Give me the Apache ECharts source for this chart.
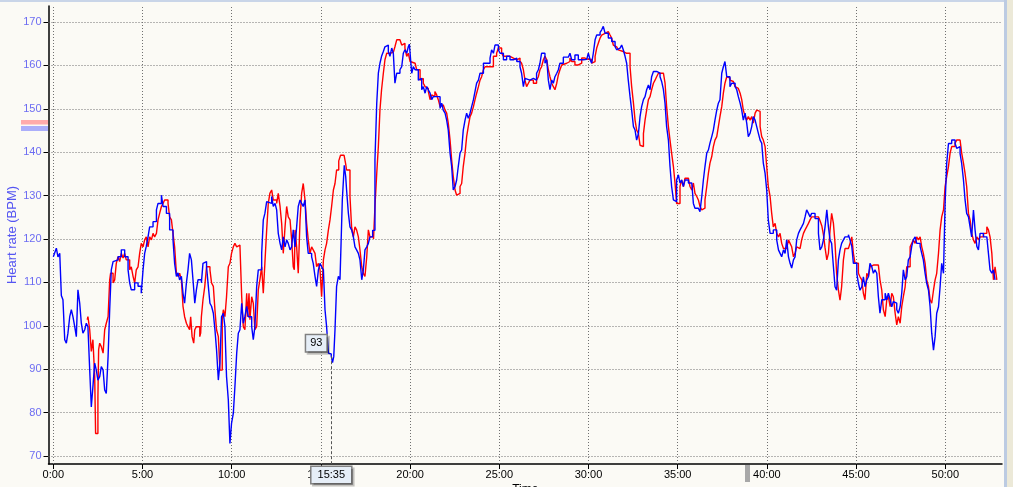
<!DOCTYPE html>
<html>
<head>
<meta charset="utf-8">
<title>Heart rate</title>
<script src="https://cdn.jsdelivr.net/npm/echarts@6/dist/echarts.min.js"></script>
<style>
  html, body { margin: 0; padding: 0; background: #fbfaf5; overflow: hidden; }
  #chart { width: 1013px; height: 487px; }
</style>
</head>
<body>
<div id="chart"></div>
<script>
  // [minutes, bpm]
  const blue = [
    [0,115.9],[0.07,116.7],[0.17,117.9],[0.26,115.9],[0.36,116.7],[0.45,107],[0.54,106],[0.64,96.8],[0.73,96],[0.82,98.3],
    [0.92,102.1],[1.01,103.7],[1.1,102.1],[1.2,99.8],[1.29,97.5],[1.38,108.3],[1.48,105.2],[1.57,100.6],[1.66,98.3],[1.76,99.1],
    [1.85,100.6],[1.94,99.8],[2.04,89.8],[2.13,81.3],[2.22,86],[2.32,91.4],[2.41,89.8],[2.5,87.5],[2.6,88.3],[2.69,90.6],
    [2.79,89.8],[2.88,85.2],[2.97,84.4],[3.07,92.9],[3.16,103.7],[3.25,112.9],[3.35,114.8],[3.44,115.2],[3.63,115.9],[3.81,117.5],
    [4,115.9],[4.19,112.9],[4.28,109.9],[4.37,108.3],[4.56,109.9],[4.75,109.1],[4.93,107.5],[5.03,112.9],[5.12,116.7],[5.21,118.3],
    [5.31,120.5],[5.4,122.8],[5.59,124],[5.78,126.7],[5.87,128.2],[6.06,130.1],[6.15,127.5],[6.34,125.9],[6.52,122.1],[6.71,119.8],
    [6.8,114.4],[6.9,111.4],[6.99,112.2],[7.08,110.6],[7.18,111.4],[7.27,107.5],[7.36,105.2],[7.46,109.9],[7.55,112.9],[7.64,116.7],
    [7.74,115.2],[7.83,110.6],[7.93,105.2],[8.02,108.3],[8.11,110.6],[8.3,109.9],[8.39,114.4],[8.5,114.8],[8.59,113.6],[8.69,109.1],
    [8.78,105.2],[8.87,104.5],[8.97,102.9],[9.06,99.1],[9.15,94.5],[9.25,87.5],[9.34,91.4],[9.43,102.1],[9.53,102.9],[9.62,99.8],
    [9.71,88.3],[9.81,82.9],[9.9,72.9],[9.99,77.5],[10.09,79.8],[10.18,86],[10.28,93.7],[10.37,98.3],[10.46,99.1],[10.56,105.2],
    [10.65,100.6],[10.74,102.1],[10.84,104.5],[10.93,102.1],[11.12,99.8],[11.21,96.8],[11.3,99.8],[11.4,109.1],[11.49,112.9],[11.68,116.7],
    [11.77,124.4],[11.86,125.9],[11.96,128.6],[12.05,128.2],[12.24,129.8],[12.33,127.5],[12.43,128.2],[12.52,126.7],[12.61,121.3],[12.71,119],
    [12.8,117.5],[12.89,120.5],[12.99,118.2],[13.08,119.8],[13.17,119],[13.27,117.5],[13.36,118.2],[13.45,122.1],[13.55,118.2],[13.64,122.8],
    [13.73,127.5],[13.83,129],[13.92,128.2],[14.01,127.5],[14.11,129],[14.2,120.5],[14.29,116.7],[14.39,116.7],[14.48,115.9],[14.57,114.4],
    [14.67,111.4],[14.76,109.1],[14.86,112.9],[14.95,114.4],[15.04,113.6],[15.14,112.9],[15.23,103.7],[15.32,99.8],[15.42,93.7],[15.51,93.5],
    [15.58,93],[15.65,91.5],[15.72,92.9],[15.79,99.1],[15.88,109.1],[15.98,111.4],[16.07,110.6],[16.13,119],[16.2,129],[16.31,137],
    [16.39,134.4],[16.44,131.3],[16.54,125.9],[16.63,122.8],[16.72,122.1],[16.82,120.5],[16.91,118.2],[17,117.5],[17.1,116.7],[17.19,115.2],
    [17.29,110.6],[17.38,112.9],[17.47,117.5],[17.57,118.2],[17.66,119],[17.75,120.5],[17.9,122],[18.03,138.2],[18.13,151.3],[18.22,158.2],
    [18.31,160.5],[18.4,162.1],[18.5,163.2],[18.59,164.3],[18.69,164.7],[18.78,163.2],[18.87,162.1],[18.97,164],[19.06,162.8],[19.15,155.9],
    [19.25,158.2],[19.34,158.2],[19.43,159],[19.53,159.7],[19.62,162.8],[19.71,163.6],[19.81,162.8],[19.9,164.3],[19.96,164.9],[20,162.8],
    [20.09,158.2],[20.18,159.7],[20.28,159],[20.37,159],[20.46,156.6],[20.56,157],[20.65,154.4],[20.74,155.1],[20.84,153.6],[20.93,155.1],
    [21.02,154.4],[21.12,153.6],[21.21,152.1],[21.3,152.8],[21.49,152.8],[21.68,150.1],[21.77,151.3],[21.86,149.7],[21.96,149],[22.05,147.4],
    [22.14,145.1],[22.24,139.8],[22.33,136.7],[22.42,131.3],[22.52,132.1],[22.61,133.6],[22.7,136.7],[22.8,139.8],[22.89,140.5],[22.98,145.1],
    [23.08,147.4],[23.17,149],[23.26,147.8],[23.36,149],[23.45,150.5],[23.55,152.1],[23.64,154],[23.73,155.9],[23.83,156.6],[23.92,158.2],
    [24.11,160.5],[24.29,160.2],[24.39,160.5],[24.48,161.7],[24.57,163.6],[24.67,162.8],[24.76,164.7],[24.85,164.7],[24.95,163.6],[25.04,162.8],
    [25.23,161.3],[25.41,162.1],[25.6,161.3],[25.79,161.7],[25.98,160.9],[26.16,159.7],[26.25,158.2],[26.35,155.1],[26.44,157],[26.53,156.6],
    [26.72,157],[26.91,156.6],[27.09,158.2],[27.19,159],[27.28,160.5],[27.37,162.8],[27.47,162.8],[27.56,160.5],[27.66,161.3],[27.75,156.6],
    [27.84,154.4],[27.94,156.6],[28.03,155.9],[28.12,157.4],[28.22,158.2],[28.31,159],[28.4,160.5],[28.59,161.9],[28.87,161.7],[28.96,162.8],
    [29.06,161.3],[29.24,162.4],[29.43,161.3],[29.71,161.4],[29.9,161.7],[29.99,162.8],[30.09,161.3],[30.18,160.5],[30.27,162.8],[30.37,165.9],
    [30.46,167],[30.65,167.6],[30.74,168.2],[30.83,169],[30.93,167.4],[31.11,166.3],[31.3,165.5],[31.49,164.3],[31.58,163.6],[31.67,164],
    [31.77,163.6],[31.86,164.7],[31.95,163.6],[32.05,162.1],[32.14,160.5],[32.23,156.6],[32.33,152.8],[32.42,149.7],[32.52,145.9],[32.61,145.1],
    [32.7,142.8],[32.8,144.3],[32.89,148.2],[32.98,150.5],[33.08,152.1],[33.17,152.8],[33.26,154.4],[33.36,155.5],[33.45,154.4],[33.54,157.4],
    [33.64,158.6],[33.82,159],[33.92,158.2],[34.01,157.4],[34.1,156.3],[34.2,154.4],[34.29,151.3],[34.38,145.9],[34.48,142.8],[34.57,136.7],
    [34.66,132.1],[34.76,129],[34.85,128.6],[34.94,133.6],[35.04,134.8],[35.13,132.9],[35.22,133.6],[35.32,132.1],[35.41,133.6],[35.6,132.9],
    [35.79,132.9],[35.88,128.2],[35.97,127.1],[36.16,127.5],[36.25,126.3],[36.35,129.8],[36.44,133.6],[36.53,136.7],[36.63,139.8],[36.72,140.5],
    [36.81,142.1],[36.91,143.6],[37,145.1],[37.09,147.4],[37.19,149.7],[37.28,151.3],[37.37,152.1],[37.47,158.2],[37.56,159.7],[37.65,160.9],
    [37.75,157.4],[37.93,155.1],[38.03,155.9],[38.22,155.1],[38.31,154.4],[38.4,152.8],[38.5,151.3],[38.59,149.7],[38.68,147.4],[38.78,149],
    [38.87,146.7],[38.96,143.6],[39.06,144.4],[39.15,145.9],[39.24,148.2],[39.34,147.4],[39.43,145.9],[39.52,144.4],[39.62,142.8],[39.71,142.1],
    [39.8,137.5],[39.9,135.1],[39.99,131.3],[40.08,124.4],[40.18,121.3],[40.36,122.1],[40.46,122.1],[40.55,119.8],[40.65,117.5],[40.74,116.7],
    [40.83,115.9],[40.93,117.5],[41.02,116.7],[41.11,119.8],[41.21,115.9],[41.3,114.4],[41.39,113.3],[41.49,115.2],[41.58,115.9],[41.67,119.8],
    [41.77,121.3],[41.86,122.1],[41.95,122.8],[42.05,123.6],[42.14,125.1],[42.23,126.7],[42.33,125.9],[42.42,125.1],[42.51,125.9],[42.7,124.7],
    [42.89,121.3],[42.98,117.5],[43.08,118.2],[43.17,119.8],[43.26,122.8],[43.36,126.7],[43.45,122.8],[43.54,119.8],[43.63,119],[43.73,113.6],
    [43.82,109],[43.91,108.2],[44.01,115.2],[44.1,117.5],[44.19,119],[44.29,119.8],[44.38,120.5],[44.57,121],[44.66,119.8],[44.76,118.3],
    [44.85,114.4],[44.94,114.4],[45.04,112.1],[45.13,109.8],[45.22,108.2],[45.32,109],[45.41,111.3],[45.5,109],[45.6,110.6],[45.69,111.3],
    [45.78,114.4],[45.88,113.6],[45.97,112.1],[46.06,112.9],[46.16,112.1],[46.25,106.7],[46.34,102.9],[46.44,106],[46.53,106],[46.63,107.5],
    [46.72,106],[46.81,107.5],[46.91,106],[47,104.4],[47.09,105.6],[47.19,105.2],[47.28,103.7],[47.37,102.9],[47.47,104.4],[47.56,107.5],
    [47.65,112.9],[47.75,110.6],[47.84,111.3],[47.93,115.2],[48.03,115.9],[48.12,118.3],[48.21,119.8],[48.31,120.5],[48.4,119],[48.59,118.3],
    [48.68,116.7],[48.77,115.2],[48.87,112.1],[48.96,109.8],[49.06,108.2],[49.15,104.4],[49.24,98.3],[49.34,94.4],[49.43,97.5],[49.52,102.9],
    [49.62,104.4],[49.71,109],[49.8,114.4],[49.9,112.1],[49.99,128.2],[50.08,137.4],[50.18,142],[50.36,142.8],[50.46,142.8],[50.55,142],
    [50.64,140.9],[50.74,141.3],[50.83,139.7],[50.92,137.4],[51.02,133.6],[51.11,129],[51.2,125.9],[51.3,125.1],[51.39,122.8],[51.48,120.5],
    [51.58,126.7],[51.67,122.1],[51.77,118.3],[51.86,117.5],[51.95,121.3],[52.14,120.5],[52.33,120.5],[52.42,116.7],[52.51,112.9],[52.61,112.1],
    [52.7,112.9],[52.79,110.6]
  ]

  const red = [
    [1.9,101.4],[1.94,102.1],[2.04,99.1],[2.13,94.1],[2.22,96.8],[2.32,88.3],[2.37,75.2],[2.43,75.2],[2.5,83.6],[2.54,94.5],
    [2.6,96],[2.69,95.2],[2.79,93.7],[2.88,99.1],[2.97,100.6],[3.07,102.1],[3.16,110.6],[3.21,112.1],[3.35,109.9],[3.44,110.6],
    [3.53,114.4],[3.63,115.9],[3.72,114.8],[3.81,116.7],[3.91,115.6],[4,116.7],[4.09,115.2],[4.19,115.2],[4.28,112.9],[4.37,113.6],
    [4.47,111.4],[4.56,109.9],[4.65,112.9],[4.75,113.6],[4.84,116.7],[4.93,119],[5.03,118.2],[5.12,119.8],[5.21,120.5],[5.31,118.2],
    [5.4,120.5],[5.5,119.8],[5.59,121.3],[5.68,120.5],[5.78,121.3],[5.87,124.4],[5.96,125.9],[6.06,127.5],[6.15,128.2],[6.24,129],
    [6.34,129],[6.43,128.2],[6.52,125.1],[6.62,124.4],[6.71,121.3],[6.8,118.2],[6.9,112.1],[6.99,111.4],[7.08,112.1],[7.18,110.6],
    [7.27,104.5],[7.36,102.1],[7.46,100.6],[7.55,99.8],[7.64,99.1],[7.7,102.1],[7.78,97.5],[7.87,96],[7.93,99.1],[8.02,99.8],
    [8.11,99.8],[8.21,97.5],[8.26,98.3],[8.3,102.1],[8.39,106],[8.49,109.1],[8.59,113.6],[8.69,113.6],[8.78,112.9],[8.87,109.9],
    [8.97,109.1],[9.06,103.7],[9.15,99.1],[9.25,97.5],[9.34,89.8],[9.43,89.8],[9.47,101.4],[9.53,103.7],[9.62,102.1],[9.71,106.7],
    [9.81,113.6],[9.9,114.4],[9.99,116.7],[10.09,118.2],[10.18,119],[10.28,118.2],[10.37,118.6],[10.46,119],[10.56,106.7],[10.65,99.8],
    [10.74,99.1],[10.84,107.5],[10.89,102.1],[10.97,107.5],[11.02,101.4],[11.12,106.7],[11.21,105.2],[11.3,99.1],[11.4,99.8],[11.49,108.3],
    [11.58,110.6],[11.68,113.6],[11.77,107.5],[11.86,114.4],[11.96,122.1],[12.05,128.2],[12.14,130.5],[12.24,131.3],[12.33,129],[12.43,129],
    [12.52,128.2],[12.61,130.5],[12.71,127.5],[12.8,123.6],[12.89,116.7],[12.99,122.8],[13.08,127.5],[13.17,125.1],[13.27,124.4],[13.36,119.8],
    [13.45,113.6],[13.51,112.9],[13.55,122.1],[13.64,118.2],[13.73,112.1],[13.83,124.4],[13.92,130.5],[14.01,132.8],[14.11,129],[14.2,123.6],
    [14.29,119.8],[14.39,116.7],[14.48,118.2],[14.57,117.5],[14.67,116.7],[14.76,113.6],[14.86,114.4],[14.95,112.9],[15.04,106.7],[15.14,115.2],
    [15.23,117.5],[15.32,119],[15.42,122.1],[15.51,124.4],[15.6,127.5],[15.7,131.3],[15.79,132.8],[15.88,135.9],[16,138],[16.1,139.3],
    [16.3,139.3],[16.4,137],[16.44,135.9],[16.63,129.8],[16.72,122.8],[16.82,120.5],[16.91,122.8],[17,122.1],[17.1,120.5],[17.19,117.5],
    [17.29,113.6],[17.38,112.1],[17.47,111.4],[17.57,115.9],[17.66,122.1],[17.75,120.5],[17.95,120],[18.03,127.5],[18.13,135.1],[18.22,141.3],
    [18.31,149.7],[18.4,154.4],[18.5,158.2],[18.59,161.3],[18.69,162.8],[18.87,163],[19.06,163.2],[19.15,164.3],[19.25,165.9],[19.43,165.9],
    [19.53,164.7],[19.62,165.1],[19.71,164],[19.81,162.1],[19.9,162.8],[20,160.9],[20.09,160.5],[20.28,160.1],[20.37,159],[20.46,159],
    [20.56,156.6],[20.65,157],[20.74,155.9],[20.84,155.1],[20.93,154.7],[21.02,154],[21.12,152.1],[21.21,153.2],[21.3,152.8],[21.39,154],
    [21.49,153.2],[21.58,152.1],[21.68,150.5],[21.77,150.9],[21.86,150.9],[21.96,149.7],[22.05,149],[22.14,146.7],[22.24,142.8],[22.33,138.2],
    [22.42,134.4],[22.52,131.3],[22.61,130.1],[22.7,130.5],[22.8,132.1],[22.89,132.8],[22.98,136.7],[23.08,139.8],[23.17,143.6],[23.26,145.9],
    [23.36,148.2],[23.45,149],[23.55,150.5],[23.64,152.1],[23.73,153.6],[23.83,155.1],[23.92,156.6],[24.01,157.4],[24.11,159],[24.2,159.7],
    [24.29,159.7],[24.48,159.4],[24.57,159.7],[24.67,162.1],[24.85,162.8],[24.95,164],[25.04,164],[25.13,162.8],[25.23,162.1],[25.41,162.1],
    [25.6,161.7],[25.79,161.3],[25.98,161.7],[26.16,161],[26.25,160.5],[26.35,159],[26.44,156.6],[26.53,155.1],[26.63,155.9],[26.72,156.6],
    [26.91,155.9],[27.09,156.6],[27.19,157.4],[27.28,159],[27.37,159.7],[27.47,161.3],[27.56,162.1],[27.66,161.3],[27.75,159],[27.84,157.4],
    [27.94,155.9],[28.03,155.1],[28.12,154.4],[28.22,155.9],[28.31,157.8],[28.4,159],[28.5,160.1],[28.59,160.5],[28.78,160.9],[28.96,161.7],
    [29.06,160.9],[29.15,160.9],[29.24,160.1],[29.43,160.5],[29.62,161.7],[29.8,161.4],[29.99,161.7],[30.09,161.4],[30.18,160.5],[30.27,160.9],
    [30.37,162.1],[30.46,164],[30.55,165.1],[30.65,166.3],[30.74,167],[30.83,167.4],[30.93,167.8],[31.02,167.8],[31.11,167.4],[31.21,167],
    [31.3,166.3],[31.39,164.7],[31.49,164.3],[31.58,164.3],[31.67,163.6],[31.77,163.2],[31.95,163.2],[32.05,162.8],[32.14,163.2],[32.23,162.8],
    [32.33,159.7],[32.42,155.1],[32.52,151.3],[32.61,147.4],[32.7,145.1],[32.8,144.3],[32.89,141.6],[32.98,141.3],[33.08,144.3],[33.17,147.4],
    [33.26,149.7],[33.36,152.1],[33.45,152.8],[33.54,154.4],[33.64,155.9],[33.73,156.6],[33.82,157.4],[33.92,158.2],[34.01,158.2],[34.2,158.2],
    [34.29,156],[34.38,150.5],[34.48,145.9],[34.57,142.8],[34.66,139.8],[34.76,136.7],[34.85,132.9],[34.94,128.2],[35.04,128.2],[35.13,132.1],
    [35.22,133.6],[35.32,132.1],[35.41,134],[35.5,134],[35.6,133.6],[35.69,132.1],[35.79,131.3],[35.88,132.9],[35.97,130.5],[36.07,129.8],
    [36.16,129],[36.25,127.5],[36.35,126.7],[36.44,127.1],[36.53,129],[36.63,132.1],[36.72,135.1],[36.81,137.5],[36.91,139],[37,141.3],
    [37.09,142.8],[37.19,143.6],[37.28,145.9],[37.37,148.2],[37.47,150.5],[37.56,153.6],[37.65,155.9],[37.75,157.4],[37.84,157.1],[37.93,156.6],
    [38.03,156.3],[38.12,155.9],[38.22,155.1],[38.31,154.7],[38.4,154.4],[38.5,153.6],[38.59,152.1],[38.68,149.7],[38.78,148.2],[38.87,147.4],
    [38.96,148.2],[39.06,147.4],[39.15,148.2],[39.24,146.7],[39.34,149],[39.43,149.7],[39.52,149.4],[39.62,145.9],[39.71,143.6],[39.8,142.8],
    [39.9,141.3],[39.99,136.7],[40.08,132.1],[40.18,129.8],[40.27,125.9],[40.36,122.8],[40.46,123.6],[40.55,121.3],[40.65,120.5],[40.74,121.3],
    [40.83,119],[40.93,117.8],[41.11,117.8],[41.21,119.8],[41.3,119],[41.39,118.2],[41.49,115.9],[41.58,116.7],[41.67,118.2],[41.77,117.8],
    [41.86,118.2],[41.95,119.8],[42.05,121.3],[42.14,122.1],[42.23,122.8],[42.33,123.6],[42.42,124.4],[42.51,125.1],[42.7,125.1],[42.89,124.7],
    [42.98,124.2],[43.08,123],[43.17,121],[43.26,118],[43.36,115.2],[43.45,116.7],[43.54,122],[43.63,125.9],[43.73,123.6],[43.82,119],
    [43.91,112.1],[44.01,108.2],[44.1,105.9],[44.19,109],[44.29,115.2],[44.38,117.8],[44.48,117.8],[44.57,118.2],[44.66,119],[44.76,120.5],
    [44.85,116.7],[44.94,114.4],[45.04,114.4],[45.13,112.1],[45.22,111.3],[45.32,110.6],[45.41,107.5],[45.5,106],[45.6,112.1],[45.69,111.3],
    [45.78,113.6],[45.88,114],[45.97,113.6],[46.06,114],[46.25,113.6],[46.34,110.6],[46.44,108.2],[46.53,103.7],[46.63,102.1],[46.72,106],
    [46.81,106.7],[46.91,104.4],[47,107.5],[47.09,106.7],[47.19,102.9],[47.28,100.2],[47.37,102.1],[47.47,100.6],[47.56,104.4],[47.65,106.7],
    [47.75,109],[47.84,113.6],[47.93,113.6],[48.03,118.2],[48.12,119],[48.21,119.8],[48.31,119],[48.4,120.5],[48.49,119.8],[48.59,120.5],
    [48.68,118.2],[48.77,116.7],[48.87,114.4],[48.96,110.6],[49.06,109],[49.15,106],[49.24,105.2],[49.34,108.2],[49.43,110.6],[49.52,112.1],
    [49.62,116.7],[49.71,122.1],[49.8,125.1],[49.9,126.7],[49.99,132.1],[50.08,134.4],[50.18,136.7],[50.27,139.8],[50.36,141.3],[50.46,141.3],
    [50.55,142.1],[50.64,142.8],[50.83,142.8],[50.92,139.8],[51.02,137.5],[51.11,135.1],[51.2,132.1],[51.3,125.9],[51.39,124.4],[51.48,121.3],
    [51.58,119.8],[51.67,119],[51.77,120.5],[51.86,119.8],[51.95,120.5],[52.05,120.5],[52.14,121.3],[52.24,121.3],[52.33,122.8],[52.42,122.1],
    [52.51,120.5],[52.61,116.7],[52.7,110.6],[52.79,113.6],[52.89,110.6]
  ]

  const xTicks = [0, 5, 10, 15, 20, 25, 30, 35, 40, 45, 50]
  const yTicks = [70, 80, 90, 100, 110, 120, 130, 140, 150, 160, 170]
  const xMin = -0.27
  const xMax = 53.18
  const yMin = 68.16
  const yMax = 173.69
  // cursor read-out (15:35, 93 bpm)
  const cursorTime = 15 + 35 / 60
  const cursorHr = 93

  const fmtTime = v => Math.round(v) + ':00'
  const gridDots = { color: '#707070', width: 1, type: [1, 2] }

  const boxLabel = {
    show: true,
    color: '#000',
    fontSize: 11,
    backgroundColor: '#e6eef7',
    borderColor: '#808080',
    borderWidth: 1.5,
    shadowColor: 'rgba(0,0,0,0.22)',
    shadowOffsetX: 2,
    shadowOffsetY: 2
  }

  const chart = echarts.init(document.getElementById('chart'))
  chart.setOption({
    animation: false,
    backgroundColor: '#fbfaf5',
    textStyle: { fontFamily: 'Liberation Sans, Arial, sans-serif' },
    grid: { left: 48.5, right: 11, top: 6, bottom: 23, containLabel: false, outerBoundsMode: 'none' },
    xAxis: {
      type: 'value',
      min: xMin,
      max: xMax,
      name: 'Time',
      nameLocation: 'middle',
      nameGap: 20,
      nameMoveOverlap: false,
      nameTextStyle: { color: '#000', fontSize: 12 },
      axisLine: { show: true, onZero: false, lineStyle: { color: '#000', width: 1.5 } },
      axisTick: { show: true, customValues: xTicks, length: 5, lineStyle: { color: '#000' } },
      axisLabel: { customValues: xTicks, formatter: fmtTime, color: '#000', fontSize: 11, margin: 5 },
      splitLine: { show: false }
    },
    yAxis: {
      type: 'value',
      min: yMin,
      max: yMax,
      name: 'Heart rate (BPM)',
      nameLocation: 'middle',
      nameGap: 30,
      nameMoveOverlap: false,
      nameTextStyle: { color: '#5555f2', fontSize: 13 },
      axisLine: { show: true, onZero: false, lineStyle: { color: '#000', width: 1.5 } },
      axisTick: { show: true, customValues: yTicks, length: 5, lineStyle: { color: '#000' } },
      axisLabel: { customValues: yTicks, color: '#6c6cf2', fontSize: 11, margin: 7 },
      splitLine: { show: false }
    },
    series: [
      {
        name: 'Red',
        type: 'line',
        step: 'end',
        data: red,
        showSymbol: false,
        lineStyle: { color: '#ff0000', width: 1.4 },
        markLine: {
          silent: true,
          z: 1,
          symbol: ['none', 'none'],
          label: { show: false },
          lineStyle: gridDots,
          data: xTicks.map(v => ({ xAxis: v })).concat(yTicks.map(v => ({ yAxis: v })))
        }
      },
      {
        name: 'Blue',
        type: 'line',
        step: 'end',
        data: blue,
        showSymbol: false,
        lineStyle: { color: '#0000ff', width: 1.4 },
        markLine: {
          silent: true,
          symbol: ['none', 'none'],
          label: { show: false },
          lineStyle: { color: '#555', width: 1, type: [3, 2] },
          data: [[{ coord: [cursorTime, cursorHr] }, { coord: [cursorTime, yMin] }]]
        },
        markPoint: {
          silent: true,
          symbol: 'rect',
          symbolSize: 1,
          itemStyle: { color: 'rgba(0,0,0,0)' },
          data: [
            {
              coord: [cursorTime, cursorHr],
              label: Object.assign({}, boxLabel, { formatter: String(cursorHr), offset: [-15, -13], padding: [3, 4, 2, 4] })
            },
            {
              coord: [cursorTime, yMin],
              label: Object.assign({}, boxLabel, { formatter: '15:35', offset: [0, 11], padding: [3, 6, 2, 6] })
            }
          ]
        }
      }
    ],
    graphic: [
      { type: 'rect', shape: { x: 21, y: 120, width: 27, height: 4.5 }, style: { fill: '#ffabab' } },
      { type: 'rect', shape: { x: 21, y: 126, width: 27, height: 5 }, style: { fill: '#abaefa' } },
      { type: 'rect', shape: { x: 745, y: 465, width: 5, height: 17 }, style: { fill: '#a8a8a8' } },
      { type: 'rect', shape: { x: 0, y: 0, width: 1006, height: 2 }, style: { fill: '#c9d5e8' } },
      { type: 'rect', shape: { x: 1004, y: 0, width: 3, height: 487 }, style: { fill: '#bccbe2' } },
      { type: 'rect', shape: { x: 1007, y: 0, width: 6, height: 487 }, style: { fill: '#ece9d8' } }
    ]
  })
</script>
</body>
</html>
